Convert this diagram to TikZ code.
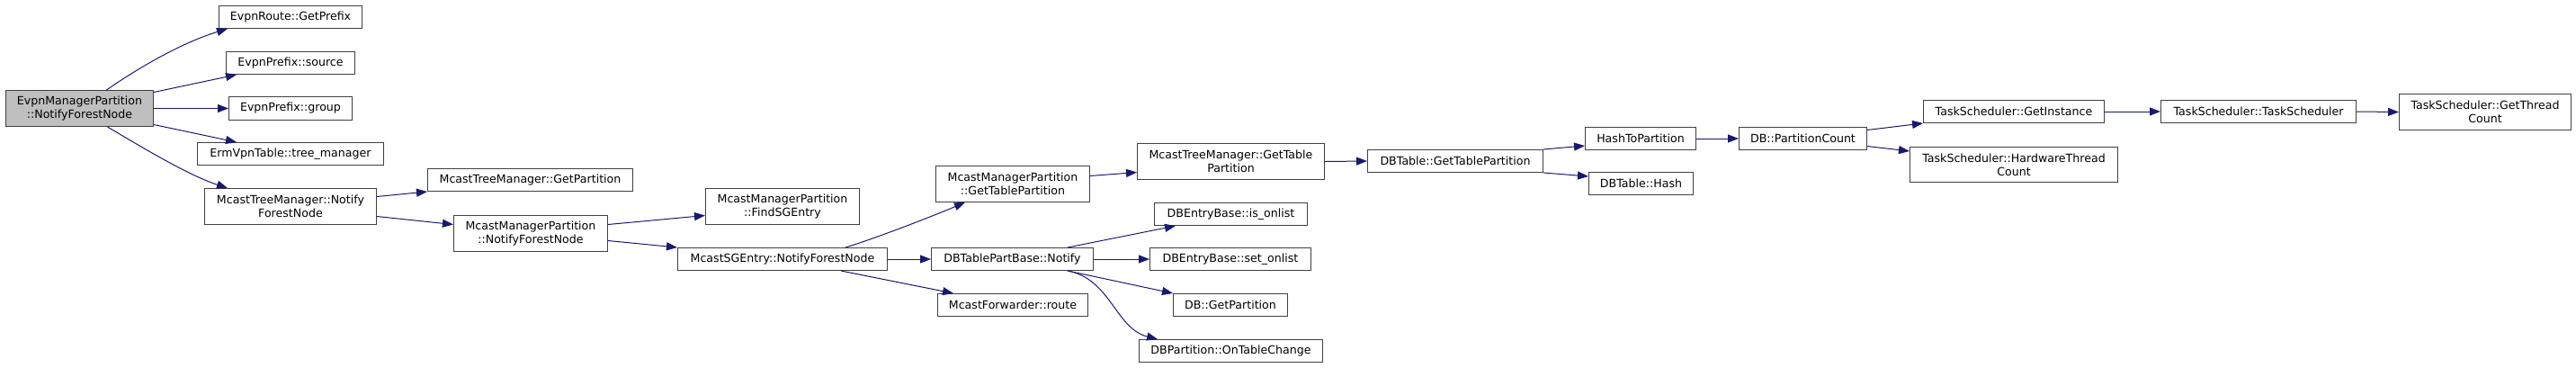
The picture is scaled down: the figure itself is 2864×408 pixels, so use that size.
\documentclass[tikz,border=0pt]{standalone}
\usepackage{fontspec}
\setmainfont{DejaVu Sans}
\usetikzlibrary{arrows.meta}
\definecolor{edgeblue}{HTML}{191970}
\definecolor{boxline}{HTML}{404040}
\definecolor{rootfill}{HTML}{BFBFBF}
\tikzset{
  fnbox/.style={draw=boxline, line width=1pt, inner sep=0pt, anchor=north west, align=center, fill=white,
    font=\fontsize{12.6}{15}\selectfont},
  rootbox/.style={fill=rootfill},
  edge/.style={draw=edgeblue, line width=1pt, -{Triangle[length=12pt,width=9pt]}}
}
\newcommand{\cgnode}[5][]{\node[fnbox,#1,minimum width={#4-#2}, minimum height={#5-#3}] at (#2,#3)}
\begin{document}
\begin{tikzpicture}[x=1pt,y=-1pt]
\useasboundingbox (0,0) rectangle (2864,408);
% nodes
\cgnode[rootbox]{6}{100}{170}{140} (root) {EvpnManagerPartition\\::NotifyForestNode};
\cgnode{243}{6}{402}{31} (gpre) {EvpnRoute::GetPrefix};
\cgnode{251}{57}{394}{82} (src) {EvpnPrefix::source};
\cgnode{254}{107}{391}{133} (grp) {EvpnPrefix::group};
\cgnode{219}{158}{426}{183} (tm) {ErmVpnTable::tree\_manager};
\cgnode{227}{209}{418}{249} (mtn) {McastTreeManager::Notify\\ForestNode};
\cgnode{475}{187}{703}{212} (mtgp) {McastTreeManager::GetPartition};
\cgnode{504}{239}{675}{279} (mmpn) {McastManagerPartition\\::NotifyForestNode};
\cgnode{784}{209}{955}{249} (fsg) {McastManagerPartition\\::FindSGEntry};
\cgnode{753}{275}{986}{300} (sgn) {McastSGEntry::NotifyForestNode};
\cgnode{1040}{184}{1211}{224} (mgtp) {McastManagerPartition\\::GetTablePartition};
\cgnode{1264}{159}{1472}{199} (mtgtp) {McastTreeManager::GetTable\\Partition};
\cgnode{1035}{275}{1215}{300} (dbn) {DBTablePartBase::Notify};
\cgnode{1042}{326}{1209}{351} (mfr) {McastForwarder::route};
\cgnode{1283}{225}{1453}{250} (isol) {DBEntryBase::is\_onlist};
\cgnode{1278}{275}{1457}{300} (setol) {DBEntryBase::set\_onlist};
\cgnode{1304}{326}{1431}{351} (dbgp) {DB::GetPartition};
\cgnode{1266}{377}{1470}{402} (otc) {DBPartition::OnTableChange};
\cgnode{1520}{166}{1715}{191} (dbtgtp) {DBTable::GetTablePartition};
\cgnode{1762}{141}{1885}{166} (h2p) {HashToPartition};
\cgnode{1766}{191}{1882}{216} (hash) {DBTable::Hash};
\cgnode{1933}{141}{2075}{166} (pc) {DB::PartitionCount};
\cgnode{2138}{111}{2339}{136} (gi) {TaskScheduler::GetInstance};
\cgnode{2123}{163}{2354}{202} (hwtc) {TaskScheduler::HardwareThread\\Count};
\cgnode{2402}{111}{2619}{136} (ts) {TaskScheduler::TaskScheduler};
\cgnode{2667}{104}{2858}{144} (gtc) {TaskScheduler::GetThread\\Count};
% edges
\draw[edge] ([xshift=30pt]root.north) .. controls (150,78) and (200,48) .. ([xshift=10pt]gpre.south west);
\draw[edge] ([yshift=18pt]root.east) -- ([xshift=12pt]src.south west);
\draw[edge] (root.east) -- (grp.west);
\draw[edge] ([yshift=-18pt]root.east) -- ([xshift=44pt]tm.north west);
\draw[edge] ([xshift=31pt]root.south) .. controls (160,165) and (210,195) .. ([xshift=26pt]mtn.north west);
\draw[edge] ([yshift=11pt]mtn.east) -- (mtgp.south west);
\draw[edge] ([yshift=-11pt]mtn.east) -- ([yshift=10pt]mmpn.west);
\draw[edge] ([yshift=10pt]mmpn.east) -- ([yshift=-10pt]fsg.west);
\draw[edge] ([yshift=-8pt]mmpn.east) -- (sgn.north west);
\draw[edge] ([xshift=187pt]sgn.north west) .. controls (970,266) and (1030,243) .. ([xshift=33pt]mgtp.south west);
\draw[edge] (sgn.east) -- (dbn.west);
\draw[edge] ([xshift=182pt]sgn.south west) -- ([xshift=18pt]mfr.north west);
\draw[edge] ([yshift=9pt]mgtp.east) -- ([yshift=-12pt]mtgtp.west);
\draw[edge] (mtgtp.east) -- (dbtgtp.west);
\draw[edge] ([xshift=152pt]dbn.north west) -- ([xshift=24pt]isol.south west);
\draw[edge] (dbn.east) -- (setol.west);
\draw[edge] ([xshift=152pt]dbn.south west) -- (dbgp.north west);
\draw[edge] ([xshift=152pt]dbn.south west) .. controls (1235,310) and (1240,365) .. ([xshift=21pt]otc.north west);
\draw[edge] (dbtgtp.north east) -- ([yshift=-8pt]h2p.west);
\draw[edge] (dbtgtp.south east) -- ([yshift=8pt]hash.west);
\draw[edge] (h2p.east) -- (pc.west);
\draw[edge] ([yshift=9.5pt]pc.east) -- (gi.south west);
\draw[edge] ([yshift=-8.5pt]pc.east) -- ([yshift=15pt]hwtc.west);
\draw[edge] (gi.east) -- (ts.west);
\draw[edge] (ts.east) -- (gtc.west);
\end{tikzpicture}
\end{document}
